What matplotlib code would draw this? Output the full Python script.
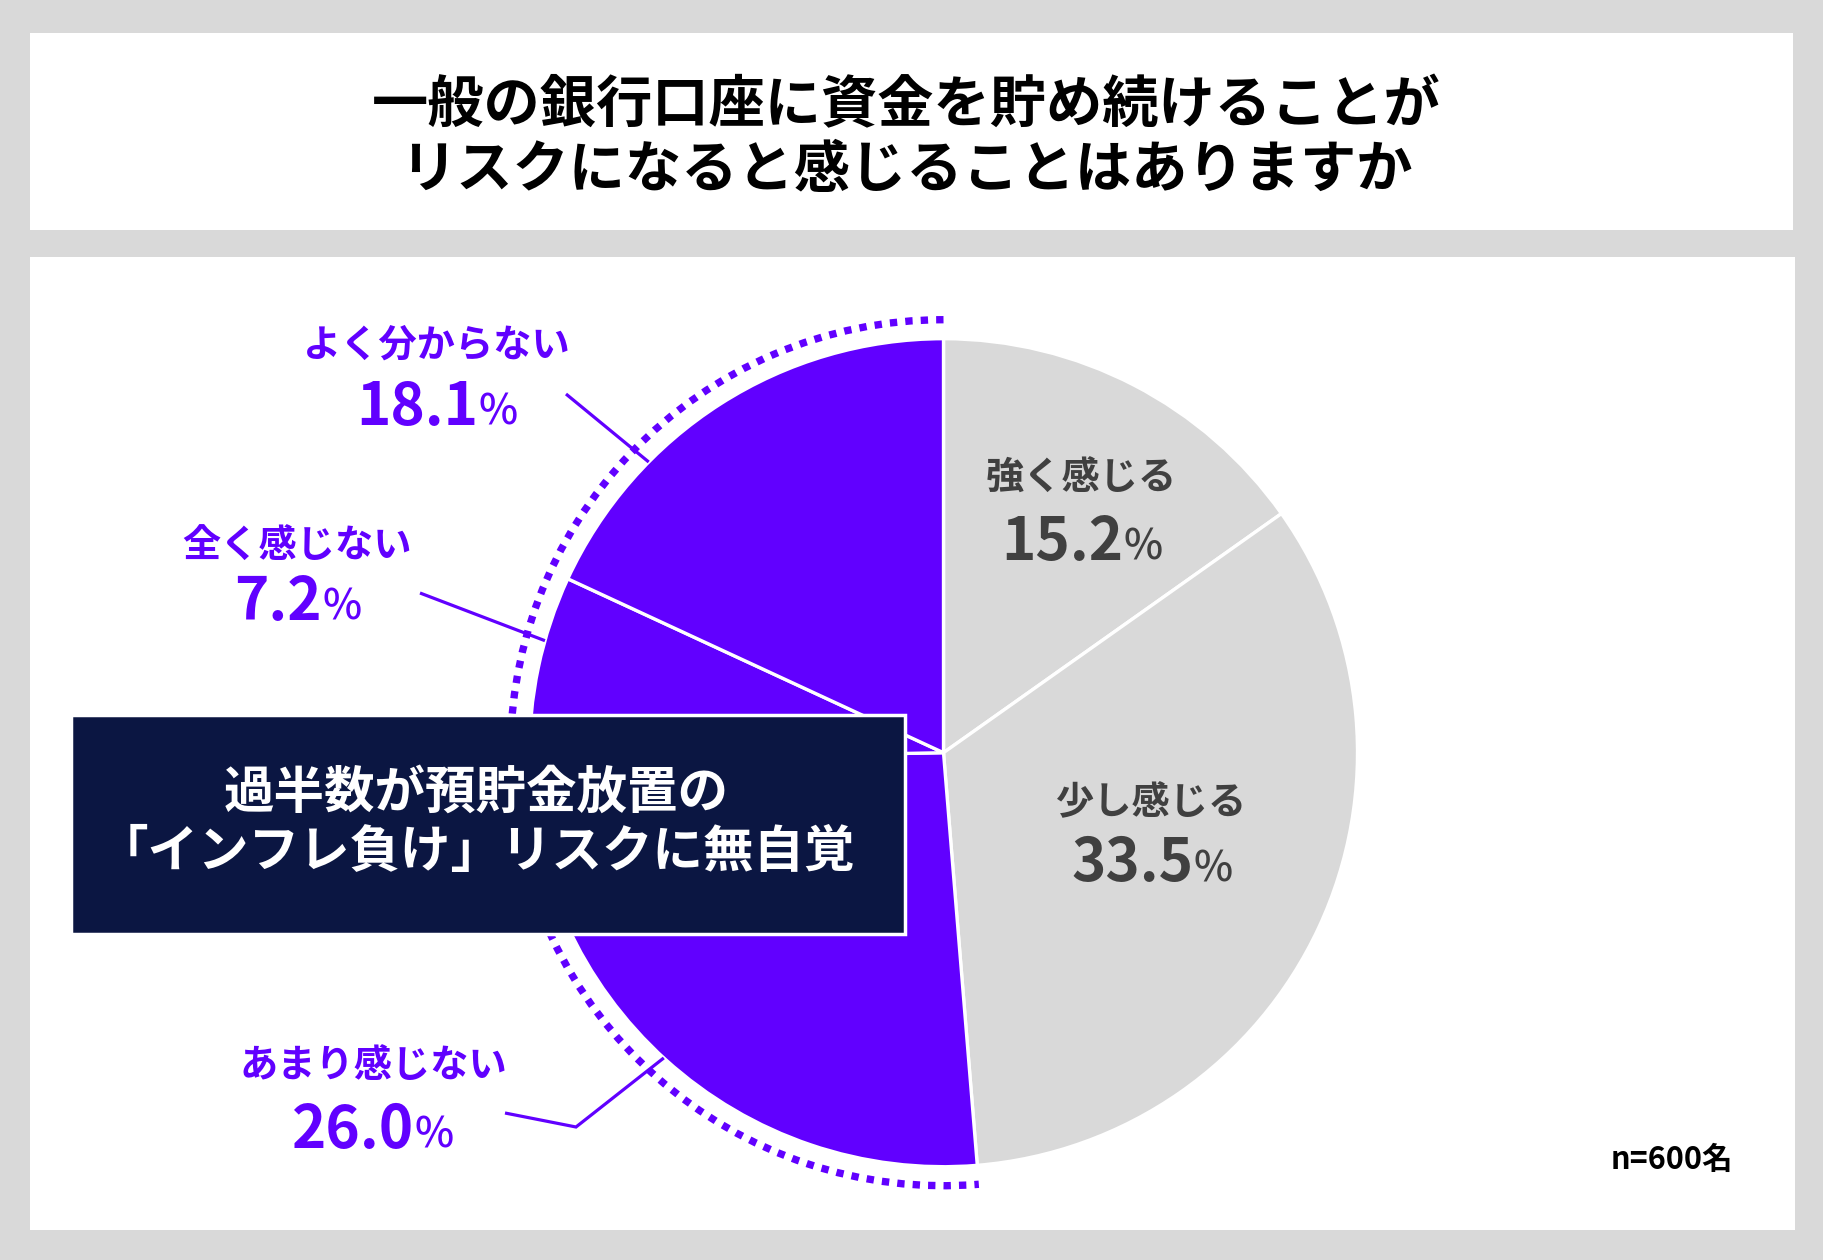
import numpy as np
import matplotlib
matplotlib.use('Agg')
import matplotlib.pyplot as plt
from matplotlib.patches import Rectangle, Arc
from matplotlib.offsetbox import TextArea, HPacker, AnnotationBbox

FAM = ['Noto Sans CJK JP', 'DejaVu Sans']
plt.rcParams['font.family'] = FAM

# ---- data ----
categories = ['強く感じる', '少し感じる', 'あまり感じない', '全く感じない', 'よく分からない']
values = [15.2, 33.5, 26.0, 7.2, 18.1]
highlight = [False, False, True, True, True]
title_lines = ['一般の銀行口座に資金を貯め続けることが', 'リスクになると感じることはありますか']
callout_lines = ['過半数が預貯金放置の', '「インフレ負け」リスクに無自覚']
note = 'n=600名'

# ---- style ----
GRAY = '#d9d9d9'
PURPLE = '#6100ff'
NAVY = '#0b1642'
DARK = '#404040'

W, H = 1824, 1260
fig = plt.figure(figsize=(W / 100, H / 100), dpi=100, facecolor=GRAY)
ax = fig.add_axes([0, 0, 1, 1])


def Y(y):
    return H - y


# panels
ax.add_patch(Rectangle((30, Y(230)), 1763, 197, facecolor='white', edgecolor='none', zorder=0))
ax.add_patch(Rectangle((30, Y(1230)), 1765, 973, facecolor='white', edgecolor='none', zorder=0))

# pie
cx, cy, R = 943.5, Y(752.7), 414
colors = [PURPLE if h else GRAY for h in highlight]
ax.pie(values, colors=colors, startangle=90, counterclock=False, center=(cx, cy), radius=R,
       wedgeprops=dict(edgecolor='white', linewidth=2.4), frame=True)

# dotted ring around highlighted slices
total = sum(values)
hl_sum = sum(v for v, h in zip(values, highlight) if h)
theta2 = 90 + 360 * hl_sum / total
Rd = 433
ax.add_patch(Arc((cx, cy), 2 * Rd, 2 * Rd, theta1=90, theta2=theta2, color=PURPLE,
                 linewidth=5.3, linestyle=(0, (1, 1.1)), capstyle='butt', zorder=3))


def edge_pt(deg):
    t = np.deg2rad(deg)
    return cx + R * np.cos(t), cy + R * np.sin(t)


# leader lines (outer points in image px, edge given by angle)
leaders = {
    'よく分からない': ([(566, 394)], 135.4),
    '全く感じない': ([(420, 593)], 164.3),
    'あまり感じない': ([(505, 1113), (576, 1127)], 227.5),
}
for name, (pts, ang) in leaders.items():
    ex, ey = edge_pt(ang)
    xs = [p[0] for p in pts] + [ex]
    ys = [Y(p[1]) for p in pts] + [ey]
    ax.plot(xs, ys, color=PURPLE, lw=2.3, solid_capstyle='butt', solid_joinstyle='miter', zorder=4)

# label positions (image px): name line centre, value line centre
label_pos = {
    '強く感じる': ((1081, 478), (1082, 543)),
    '少し感じる': ((1152, 803), (1152, 864)),
    'あまり感じない': ((373, 1066), (373, 1131)),
    '全く感じない': ((297, 546), (298, 603)),
    'よく分からない': ((437, 345), (437, 408)),
}

for cat, val, h in zip(categories, values, highlight):
    c = PURPLE if h else DARK
    (lx, ly), (vx, vy) = label_pos[cat]
    ax.text(lx, Y(ly), cat, ha='center', va='center', fontsize=27.5, fontweight='bold',
            color=c, zorder=6)
    num = TextArea(f'{val:.1f}', textprops=dict(fontsize=42, fontweight='bold', color=c, family=FAM))
    pct = TextArea('%', textprops=dict(fontsize=30, fontweight='medium', color=c, family=FAM))
    pk = HPacker(children=[num, pct], align='baseline', pad=0, sep=0)
    ab = AnnotationBbox(pk, (vx, Y(vy)), xycoords='data', frameon=False, box_alignment=(0.5, 0.5),
                        pad=0, zorder=6)
    ax.add_artist(ab)

# title
for i, line in enumerate(title_lines):
    ax.text(W / 2 - 6, Y(106 + 65 * i), line, ha='center', va='center', fontsize=40.5,
            fontweight='bold', color='black', zorder=6)

# callout box
ax.add_patch(Rectangle((71, Y(934)), 834, 219, facecolor=NAVY, edgecolor='white', linewidth=2.5,
                       zorder=7))
for i, line in enumerate(callout_lines):
    ax.text(476, Y(793 + 60 * i), line, ha='center', va='center', fontsize=36.4,
            fontweight='bold', color='white', zorder=8)

# sample size note
ax.text(1672, Y(1160), note, ha='center', va='center', fontsize=22, fontweight='bold',
        color='black', zorder=6)

ax.set_xlim(0, W)
ax.set_ylim(0, H)
ax.set_aspect('equal')
ax.axis('off')

fig.savefig('out.png', dpi=100, facecolor=GRAY)
